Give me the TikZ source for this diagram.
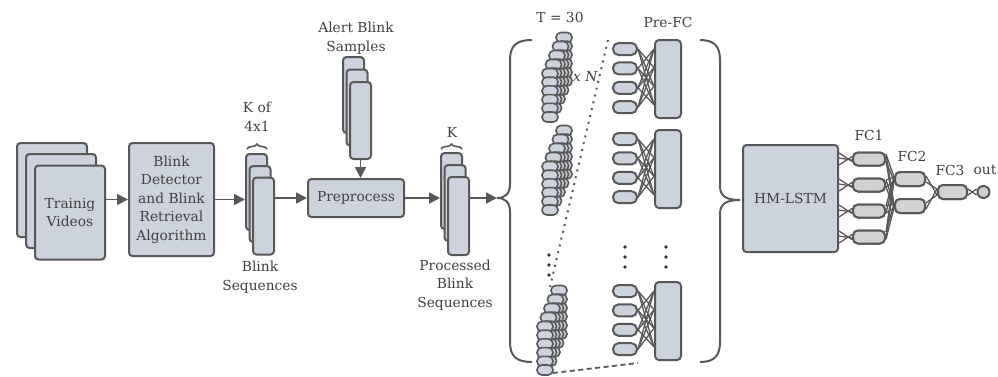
\documentclass[tikz,border=0pt]{standalone}
\usepackage{fontspec}
\setmainfont{DejaVu Serif}
\usetikzlibrary{arrows.meta,decorations.pathreplacing,calc}

\definecolor{edge}{HTML}{585858}
\definecolor{boxfill}{HTML}{CDD3DC}
\definecolor{fcfill}{HTML}{D2D2D2}
\definecolor{txt}{HTML}{404040}

\tikzset{
  box/.style={draw=edge, fill=boxfill, line width=2pt, rounded corners=3.5pt,
    inner sep=0pt, minimum width=#1},
  box/.default=21pt,
  lbl/.style={text=txt, font=\fontsize{13.8}{18.5}\selectfont, align=center, inner sep=0pt},
  arr/.style={draw=edge, line width=1.8pt, -{Triangle[length=11pt,width=11pt]}},
  bracepen/.style={draw=edge, line width=2pt},
  brc/.style={draw=edge, line width=1.6pt, decorate, decoration={brace, amplitude=5pt}},
  seqpill/.style={draw=edge, fill=boxfill, line width=1.6pt, rounded corners=4.8pt},
  smallpill/.style={draw=edge, fill=boxfill, line width=2pt, rounded corners=5.5pt,
    minimum width=24pt, minimum height=12pt, inner sep=0pt},
  tall/.style={draw=edge, fill=boxfill, line width=2pt, rounded corners=4pt,
    minimum width=26pt, minimum height=78pt, inner sep=0pt},
  fcpill/.style={draw=edge, fill=fcfill, line width=2pt, rounded corners=5pt,
    minimum width=#1, minimum height=13pt, inner sep=0pt},
  wire/.style={draw=edge, line width=1.3pt},
  dot/.style={fill=black!80, circle, inner sep=0pt, minimum size=3.8pt},
}

% one stack of time steps: five layers of six cells each
\newcommand\seqstack[2]{%
  \foreach \j in {4,3,2,1,0}{
    \foreach \i in {5,4,3,2,1,0}{
      \draw[seqpill] ({#1+3.5*\j-8},{#2-8.7*\i-9*\j-5}) rectangle +(16,10);
    }}}

% one pre-FC block: four cells wired into a tall layer
\newcommand\prefc[2]{%
  \node[tall] (#2r) at (668,{#1+39}) {};
  \foreach \i in {0,...,3}{
    \node[smallpill] (#2p\i) at (625,{#1+9+19.4*\i}) {};
  }
  \foreach \i in {0,...,3}{
    \foreach \k in {0,...,3}{
      \ifnum\i=\k\relax\else
        \draw[wire] (#2p\i.east) -- ($(#2r.north west)+(0,{10+18.6*\k})$);
      \fi
    }}
}

\begin{document}
\begin{tikzpicture}[x=1pt,y=-1pt]
\useasboundingbox (0,0) rectangle (998,376);

% training videos
\node[box=70pt, minimum height=94pt] (tv3) at (52,190) {};
\node[box=70pt, minimum height=94pt] (tv2) at (61,201) {};
\node[box=70pt, minimum height=94pt, lbl] (tv1) at (70,212.5) {Trainig\\Videos};

% detector
\node[box=85pt, minimum height=113pt, lbl] (det) at (171.5,199.5)
  {Blink\\Detector\\and Blink\\Retrieval\\Algorithm};
\draw[arr] (tv1.east |- det.west) -- (det.west);

% blink sequences
\node[box, minimum height=76pt] (bs3) at (256.5,192) {};
\node[box, minimum height=76pt] (bs2) at (260,204) {};
\node[box, minimum height=77pt] (bs1) at (263.5,216) {};
\draw[arr] (det.east) -- (det.east -| bs3.west);
\draw[brc] (247,149) -- (267,149);
\node[lbl] (kof) at (257,117) {K of\\4x1};
\node[lbl] (bsl) at (260,277) {Blink\\Sequences};

% alert samples
\node[box, minimum height=76pt] (al3) at (353.5,95) {};
\node[box, minimum height=76pt] (al2) at (357,107.5) {};
\node[box, minimum height=77pt] (al1) at (360.5,120.5) {};
\node[lbl] (all) at (356,38) {Alert Blink\\Samples};

% preprocess
\node[box=96pt, minimum height=38pt, lbl] (pre) at (356,198) {Preprocess};
\draw[arr] (bs1.east |- pre.west) -- (pre.west);
\draw[arr] (al1.south) -- (al1.south |- pre.north);

% processed sequences
\node[box, minimum height=76pt] (ps3) at (451.5,191) {};
\node[box, minimum height=76pt] (ps2) at (455,203) {};
\node[box, minimum height=78pt] (ps1) at (458.5,216) {};
\draw[arr] (pre.east) -- (pre.east -| ps3.west);
\draw[brc] (441,149) -- (462,149);
\node[lbl] (kl) at (452,132) {K};
\node[lbl] (psl) at (455,285) {Processed\\Blink\\Sequences};

\coordinate (tipL) at (497,198);
\draw[arr] (ps1.east |- tipL) -- (tipL);

% grouping braces
\draw[bracepen] (532,40) .. controls (516,40) and (510,46) .. (510,60) -- (510,184)
  .. controls (510,194) and (505,198) .. (497,198)
  .. controls (505,198) and (510,202) .. (510,212) -- (510,342)
  .. controls (510,356) and (516,362) .. (532,362);
\draw[bracepen] (700,40) .. controls (714,40) and (720,46) .. (720,60) -- (720,186)
  .. controls (720,196) and (726,200) .. (740,200)
  .. controls (726,200) and (720,204) .. (720,214) -- (720,342)
  .. controls (720,356) and (714,362) .. (700,362);

% time-step stacks
\coordinate (dA) at (608,40);
\coordinate (dB) at (550,287);
\draw[draw=edge, line width=2pt, dash pattern=on 2pt off 5pt] (dA) -- (dB);
\seqstack{550}{117}
\seqstack{550}{210}
\seqstack{545}{370}
\coordinate (dC) at (553,373);
\coordinate (dD) at (638,363);
\draw[draw=edge, line width=1.8pt, dash pattern=on 5pt off 3.5pt] (dC) -- (dD);
\node[lbl, font=\fontsize{13.8}{16}\selectfont\itshape, anchor=west] (xn) at (573,77) {x N};
\node[lbl] (tl) at (560,17) {T = 30};

\node[dot] (v1) at (549,255) {};
\node[dot] (v2) at (549,265) {};
\node[dot] (v3) at (549,275) {};

% pre-FC blocks
\prefc{40}{a}
\prefc{130}{b}
\prefc{282}{c}
\node[lbl] (pfl) at (668,22) {Pre-FC};
\foreach \x/\n in {625/p,666/q}{
  \node[dot] (\n1) at (\x,247) {};
  \node[dot] (\n2) at (\x,257) {};
  \node[dot] (\n3) at (\x,267) {};
}

% recurrent core
\node[box=95pt, minimum height=107pt, lbl] (hm) at (790.5,198.5) {HM-LSTM};

% fully connected head
\foreach \k/\y in {1/159,2/185,3/211,4/237}{
  \node[fcpill=32pt] (f1\k) at (869,\y) {};
  \draw[wire] ($(f1\k.west -| hm.east)+(0,-6)$) -- ($(f1\k.west)+(0,2.5)$);
  \draw[wire] ($(f1\k.west -| hm.east)+(0,6)$) -- ($(f1\k.west)+(0,-2.5)$);
  \draw[wire] ($(f1\k.west -| hm.east)+(0,-1)$) -- ($(f1\k.west)+(0,1)$);
}
\node[fcpill=30pt, minimum height=14pt] (f21) at (910,179) {};
\node[fcpill=30pt, minimum height=14pt] (f22) at (910,206) {};
\foreach \k in {1,2,3,4}{
  \foreach \m in {1,2}{
    \draw[wire] ($(f1\k.east)+(0,-5)$) -- ($(f2\m.west)+(0,-2)$);
    \draw[wire] ($(f1\k.east)+(0,2)$) -- ($(f2\m.west)+(0,2)$);
  }}
\node[fcpill=29pt, minimum height=14pt] (f3) at (952.5,192) {};
\foreach \m in {1,2}{
  \draw[wire] ($(f2\m.east)+(0,-3)$) -- ($(f3.west)+(0,3)$);
  \draw[wire] ($(f2\m.east)+(0,3)$) -- ($(f3.west)+(0,-3)$);
}
\node[draw=edge, fill=fcfill, line width=2pt, circle, minimum size=12pt, inner sep=0pt] (out) at (983.5,192) {};
\draw[wire] ($(f3.east)+(0,-3)$) -- ($(out.west)+(0,3)$);
\draw[wire] ($(f3.east)+(0,3)$) -- ($(out.west)+(0,-3)$);
% redraw cells over their wires
\foreach \k/\y in {1/159,2/185,3/211,4/237}{
  \node[fcpill=32pt] at (869,\y) {};
}
\node[fcpill=30pt, minimum height=14pt] at (910,179) {};
\node[fcpill=30pt, minimum height=14pt] at (910,206) {};
\node[fcpill=29pt, minimum height=14pt] at (952.5,192) {};

\node[lbl] (fc1l) at (869,135) {FC1};
\node[lbl] (fc2l) at (912,156) {FC2};
\node[lbl] (fc3l) at (950,170) {FC3};
\node[lbl] (outl) at (985,170) {out};
\end{tikzpicture}
\end{document}
